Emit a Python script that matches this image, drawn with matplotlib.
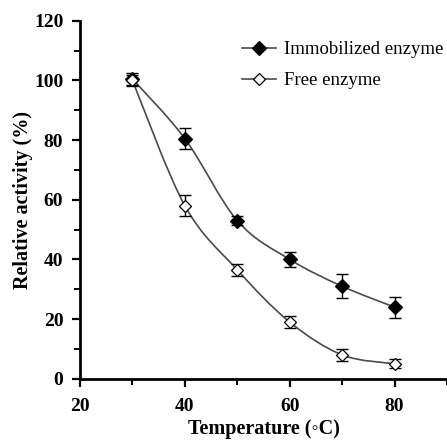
import numpy as np
import matplotlib.pyplot as plt
from matplotlib.path import Path
from matplotlib.patches import PathPatch
from matplotlib.ticker import MultipleLocator

# data
temp = [30, 40, 50, 60, 70, 80]
immob = [100.5, 80.5, 53.0, 40.0, 31.0, 24.0]
immob_err = [2.0, 3.5, 1.5, 2.5, 4.0, 3.5]
free = [100.0, 58.0, 36.5, 19.0, 8.0, 5.0]
free_err = [2.0, 3.5, 2.0, 2.0, 2.0, 1.5]

plt.rcParams['font.family'] = ['Liberation Serif', 'DejaVu Serif']
line_col = '#4a4a4a'


def smooth_path(x, y, t=0.5):
    # Catmull-Rom style bezier through the points (like Excel smoothed lines)
    x = np.asarray(x, float)
    y = np.asarray(y, float)
    verts = [(x[0], y[0])]
    codes = [Path.MOVETO]
    n = len(x)
    for i in range(n - 1):
        p0 = i - 1 if i > 0 else i
        p3 = i + 2 if i + 2 < n else i + 1
        c1 = (x[i] + (x[i + 1] - x[p0]) * t / 3, y[i] + (y[i + 1] - y[p0]) * t / 3)
        c2 = (x[i + 1] - (x[p3] - x[i]) * t / 3, y[i + 1] - (y[p3] - y[i]) * t / 3)
        verts += [c1, c2, (x[i + 1], y[i + 1])]
        codes += [Path.CURVE4] * 3
    return Path(verts, codes)


fig = plt.figure(figsize=(4.47, 4.43), dpi=100)
ax = fig.add_axes([0.179, 0.145, 0.821, 0.808])

for ys, err, face, ms, lab in [(immob, immob_err, 'black', 7.5, 'Immobilized enzyme'),
                                (free, free_err, 'white', 6.0, 'Free enzyme')]:
    ax.add_patch(PathPatch(smooth_path(temp, ys), fill=False, ec=line_col, lw=1.2, zorder=2))
    ax.errorbar(temp, ys, yerr=err, fmt='none', ecolor='black', elinewidth=1.0,
                capsize=4, capthick=1.0, zorder=3)
    ax.plot(temp, ys, ls='none', marker='D', ms=ms, mfc=face, mec='black', mew=0.9, zorder=4)
    ax.plot([], [], color=line_col, lw=1.2, marker='D', ms=ms, mfc=face, mec='black',
            mew=0.9, label=lab)

ax.set_xlim(20, 90)
ax.set_ylim(0, 120)
ax.xaxis.set_major_locator(MultipleLocator(20))
ax.xaxis.set_minor_locator(MultipleLocator(10))
ax.yaxis.set_major_locator(MultipleLocator(20))
ax.yaxis.set_minor_locator(MultipleLocator(10))
ax.set_xticks([20, 40, 60, 80])

for s in ['top', 'right']:
    ax.spines[s].set_visible(False)
for s in ['left', 'bottom']:
    ax.spines[s].set_linewidth(2.0)

ax.tick_params(which='major', length=6, width=1.6, direction='out', labelsize=14, pad=6)
ax.tick_params(axis='x', which='major', pad=8)
ax.tick_params(which='minor', length=4, width=1.4, direction='out')
for lbl in ax.get_xticklabels() + ax.get_yticklabels():
    lbl.set_fontweight('bold')

ax.set_xlabel('Temperature (\u25e6C)', fontsize=14.5, fontweight='bold', labelpad=3)
ax.set_ylabel('Relative activity (%)', fontsize=14.5, fontweight='bold', labelpad=1)

ax.legend(loc='upper right', bbox_to_anchor=(1.02, 0.975), frameon=False, fontsize=13.5,
          handlelength=1.8, handletextpad=0.4, labelspacing=0.75, borderaxespad=0.2)

fig.savefig('out.png', dpi=100)
